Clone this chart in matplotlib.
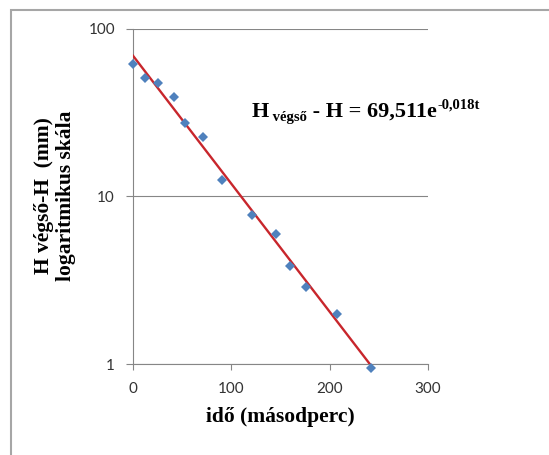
import numpy as np
import matplotlib
matplotlib.use("Agg")
import matplotlib.pyplot as plt
from matplotlib.patches import Rectangle
from matplotlib.transforms import IdentityTransform

# measured points (time in s, H_final - H in mm)
ido = [0, 12, 25, 42, 53, 71, 91, 121, 145, 160, 176, 207, 242]
h_diff = [61.5, 51.0, 47.2, 39.3, 27.3, 22.5, 12.5, 7.75, 5.94, 3.85, 2.89, 1.98, 0.95]
x_ticks = [0, 100, 200, 300]
y_ticks = [1, 10, 100]
y_tick_labels = ["1", "10", "100"]

# equation pieces: (text, size, baseline shift in px)
eq_parts = [("H", 16, 0), (" végső", 10.5, -4), (" - H = 69,511e", 16, 0), ("-0,018t", 10.5, 8)]

W, H = 549, 455
fig = plt.figure(figsize=(W / 100, H / 100), dpi=100)
fig.patch.set_facecolor('white')

# outer chart frame (runs off the image on right/bottom)
fig.patches.append(Rectangle((11 / W, -0.5), 2, 1.5 - 9.5 / H, transform=fig.transFigure,
                             fill=False, edgecolor='#a6a6a6', lw=1.5))

ax = fig.add_axes([133 / W, 1 - 364 / H, 295 / W, (364 - 28.7) / H])

# exponential trendline like Excel: fit ln(y) = ln(a) + b t
b, ln_a = np.polyfit(ido, np.log(h_diff), 1)
t_line = np.linspace(0, max(ido), 200)
ax.plot(t_line, np.exp(ln_a) * np.exp(b * t_line), color='#c8262c', lw=1.7, zorder=3)

ax.plot(ido, h_diff, 'D', color='#4f81bd', ms=5.6, mew=0, zorder=4, clip_on=False)

ax.set_yscale('log')
ax.set_xlim(0, 300)
ax.set_ylim(1, 100)
ax.set_xticks(x_ticks)
ax.set_yticks(y_ticks)
ax.set_yticklabels(y_tick_labels)
ax.yaxis.set_minor_locator(matplotlib.ticker.NullLocator())

ax.grid(axis='y', color='#868686', lw=0.8)
ax.set_axisbelow(True)
for side in ['top', 'right']:
    ax.spines[side].set_visible(False)
for side in ['left', 'bottom']:
    ax.spines[side].set_color('#868686')
    ax.spines[side].set_linewidth(0.8)

ax.tick_params(axis='both', direction='out', color='#868686', width=0.8,
               labelcolor='#333333', labelsize=11)
ax.tick_params(axis='y', length=5, pad=8)
ax.tick_params(axis='x', length=4, pad=9)
for lab in ax.get_xticklabels() + ax.get_yticklabels():
    lab.set_family('Lato')

fig.text(55 / W, 1 - 196 / H, "H végső-H  (mm)\nlogaritmikus skála", rotation=90,
         ha='center', va='center', family='Liberation Serif', weight='bold',
         fontsize=15.5, linespacing=1.15)
fig.text(280.5 / W, 1 - 417 / H, "idő (másodperc)", ha='center', va='center',
         family='Liberation Serif', weight='bold', fontsize=15.5)

# trendline equation, built piece by piece (sub/superscripts)
fig.canvas.draw()
renderer = fig.canvas.get_renderer()
x_px, base_px = 252, H - 117
for txt, size, shift in eq_parts:
    t = fig.text(x_px, base_px + shift, txt, transform=IdentityTransform(),
                 family='Liberation Serif', weight='bold', fontsize=size,
                 ha='left', va='baseline', color='black')
    x_px = t.get_window_extent(renderer).x1

fig.savefig('out.png', dpi=100)
